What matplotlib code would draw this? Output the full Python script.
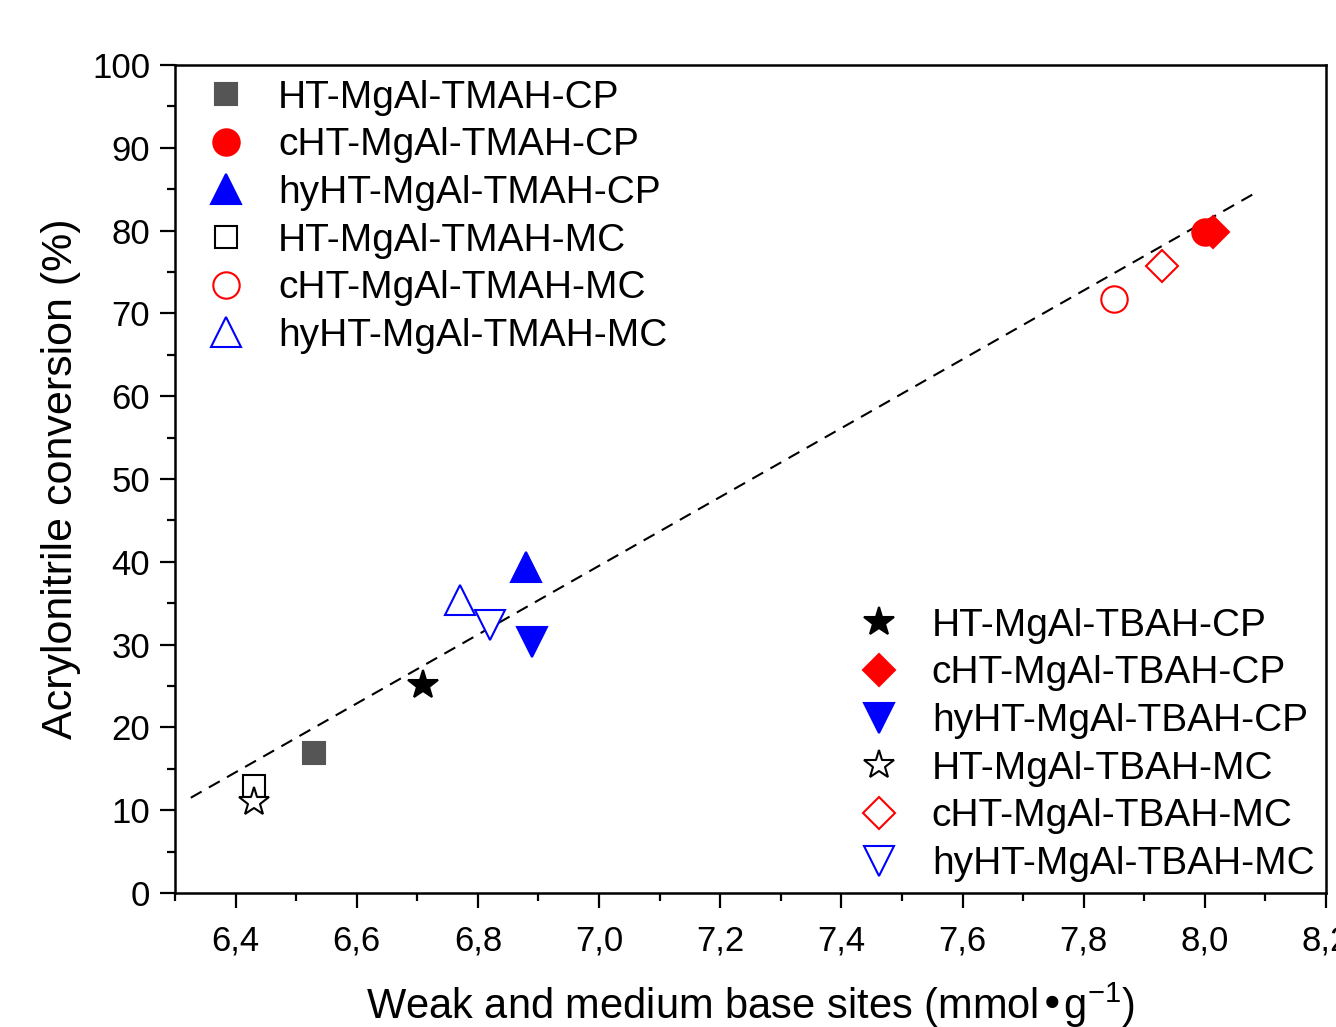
import matplotlib
matplotlib.use("Agg")
import matplotlib.pyplot as plt
from matplotlib.ticker import MultipleLocator

plt.rcParams['font.family'] = ['Liberation Sans', 'DejaVu Sans']
plt.rcParams['mathtext.default'] = 'regular'

# samples: label, x (mmol/g), y (%)
labels_tmah = ["HT-MgAl-TMAH-CP", "cHT-MgAl-TMAH-CP", "hyHT-MgAl-TMAH-CP",
               "HT-MgAl-TMAH-MC", "cHT-MgAl-TMAH-MC", "hyHT-MgAl-TMAH-MC"]
x_tmah = [6.53, 8.00, 6.88, 6.43, 7.85, 6.77]
y_tmah = [16.9, 79.8, 39.4, 12.9, 71.7, 35.4]

labels_tbah = ["HT-MgAl-TBAH-CP", "cHT-MgAl-TBAH-CP", "hyHT-MgAl-TBAH-CP",
               "HT-MgAl-TBAH-MC", "cHT-MgAl-TBAH-MC", "hyHT-MgAl-TBAH-MC"]
x_tbah = [6.71, 8.013, 6.89, 6.43, 7.93, 6.82]
y_tbah = [25.1, 79.8, 30.3, 11.0, 75.7, 32.4]

# linear fit line (endpoints)
fit_x = [6.326, 8.087]
fit_y = [11.5, 84.7]

# marker styles: (marker, size, facecolor, edgecolor)
sty_tmah = [("s", 15.5, "#555555", "#555555"),
            ("o", 19, "red", "red"),
            ("^", 21, "blue", "blue"),
            ("s", 15.5, "white", "black"),
            ("o", 19, "white", "red"),
            ("^", 21, "white", "blue")]
sty_tbah = [("*", 22, "black", "black"),
            ("D", 16, "red", "red"),
            ("v", 21, "blue", "blue"),
            ("*", 22, "white", "black"),
            ("D", 16, "white", "red"),
            ("v", 21, "white", "blue")]

fig = plt.figure(figsize=(13.36, 10.27), dpi=100)
ax = fig.add_axes([0.131, 0.1305, 0.8615, 0.8062])

ax.plot(fit_x, fit_y, color="black", lw=1.5, ls=(0, (6, 4)), zorder=1)

h1 = []
for i in range(6):
    m, s, fc, ec = sty_tmah[i]
    (ln,) = ax.plot(x_tmah[i], y_tmah[i], ls="none", marker=m, ms=s, mfc=fc,
                    mec=ec, mew=1.5, label=labels_tmah[i], zorder=3)
    h1.append(ln)
h2 = []
for i in range(6):
    m, s, fc, ec = sty_tbah[i]
    (ln,) = ax.plot(x_tbah[i], y_tbah[i], ls="none", marker=m, ms=s, mfc=fc,
                    mec=ec, mew=1.5, label=labels_tbah[i], zorder=3)
    h2.append(ln)

ax.set_xlim(6.3, 8.2)
ax.set_ylim(0, 100)
ax.xaxis.set_major_locator(MultipleLocator(0.2))
ax.xaxis.set_minor_locator(MultipleLocator(0.1))
ax.yaxis.set_major_locator(MultipleLocator(10))
ax.yaxis.set_minor_locator(MultipleLocator(5))
# decimal comma
fmt = lambda v, p: ("%.1f" % v).replace(".", ",")
ax.xaxis.set_major_formatter(plt.FuncFormatter(fmt))

for sp in ax.spines.values():
    sp.set_linewidth(1.8)
ax.tick_params(which="major", direction="out", length=11, width=1.6,
               labelsize=25, top=False, right=False)
ax.tick_params(which="minor", direction="out", length=6, width=1.6,
               top=False, right=False)
ax.tick_params(axis="x", which="major", pad=12)
ax.tick_params(axis="y", which="major", pad=7)

ax.set_xlabel(r"Weak and medium base sites (mmol•g$^{-1}$)", fontsize=30,
              labelpad=16)
ax.set_ylabel("Acrylonitrile conversion (%)", fontsize=31, labelpad=8)

leg1 = ax.legend(handles=h1, loc="upper left", bbox_to_anchor=(0.0, 1.02),
                 frameon=False, fontsize=28, handlelength=1.0,
                 handletextpad=0.85, labelspacing=0.3, borderpad=0.3)
ax.add_artist(leg1)
ax.legend(handles=h2, loc="upper left", bbox_to_anchor=(0.568, 0.382),
          frameon=False, fontsize=28, handlelength=1.0,
          handletextpad=0.85, labelspacing=0.3, borderpad=0.3)

fig.savefig("out.png", dpi=100)
